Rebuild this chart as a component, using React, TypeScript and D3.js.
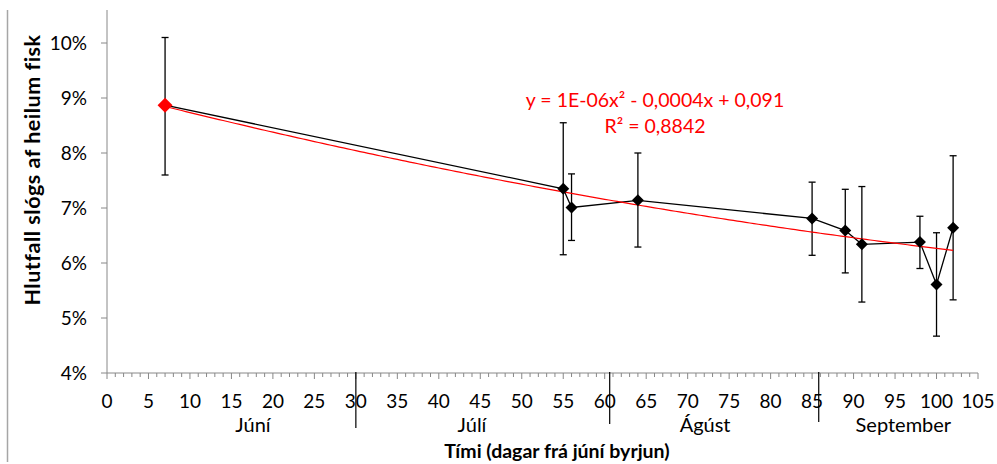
import React from "react";
import * as d3 from "d3";

const days = [7, 55, 56, 64, 85, 89, 91, 98, 100, 102];
const values = [8.87, 7.35, 7.01, 7.14, 6.81, 6.59, 6.34, 6.38, 5.61, 6.64];
const errLow = [7.6, 6.15, 6.41, 6.29, 6.14, 5.82, 5.29, 5.9, 4.67, 5.33];
const errHigh = [10.1, 8.55, 7.62, 8.0, 7.47, 7.34, 7.39, 6.85, 6.55, 7.95];
const yTicks = [4, 5, 6, 7, 8, 9, 10];
const xTicks = d3.range(0, 106, 5);
const xMinor = d3.range(0, 106, 1);
const monthNames = ["Júní", "Júlí", "Ágúst", "September"];
const monthCenters = [17.6, 44, 72.1, 96];
const monthDividers = [30, 60.6, 85.8];
const dividerEnds = [428, 424, 422];
const equationText = "y = 1E-06x² - 0,0004x + 0,091";
const r2Text = "R² = 0,8842";

// quadratic least squares fit
function quadFit(xs: number[], ys: number[]) {
  const n = xs.length;
  let s = [0, 0, 0, 0, 0];
  let t = [0, 0, 0];
  for (let i = 0; i < n; i++) {
    const x = xs[i], y = ys[i];
    for (let k = 0; k < 5; k++) s[k] += Math.pow(x, k);
    for (let k = 0; k < 3; k++) t[k] += y * Math.pow(x, k);
  }
  const A = [
    [s[0], s[1], s[2], t[0]],
    [s[1], s[2], s[3], t[1]],
    [s[2], s[3], s[4], t[2]],
  ];
  for (let i = 0; i < 3; i++) {
    let p = i;
    for (let r = i + 1; r < 3; r++) if (Math.abs(A[r][i]) > Math.abs(A[p][i])) p = r;
    [A[i], A[p]] = [A[p], A[i]];
    for (let r = 0; r < 3; r++) {
      if (r === i) continue;
      const f = A[r][i] / A[i][i];
      for (let c = i; c < 4; c++) A[r][c] -= f * A[i][c];
    }
  }
  return [A[0][3] / A[0][0], A[1][3] / A[1][1], A[2][3] / A[2][2]];
}

export default function App() {
  const W = 997, H = 464;
  const x = d3.scaleLinear().domain([0, 105]).range([107, 978]);
  const y = d3.scaleLinear().domain([4, 10]).range([373, 43]);
  const font = "Lato, 'Open Sans', sans-serif";
  const [c0, c1, c2] = quadFit(days, values);
  const trendPts = d3.range(days[0], days[days.length - 1] + 0.01, 0.5).map((d) => [d, c0 + c1 * d + c2 * d * d]);
  const trendLine = d3.line<number[]>().x((d) => x(d[0])).y((d) => y(d[1]))(trendPts) || "";
  const dataLine = d3.line<number>().x((_, i) => x(days[i])).y((d) => y(d))(values) || "";
  const diamond = (cx: number, cy: number, r: number) =>
    `M${cx},${cy - r}L${cx + r},${cy}L${cx},${cy + r}L${cx - r},${cy}Z`;
  const axisColor = "#888";

  return (
    <svg width={W} height={H} style={{ position: "absolute", left: 0, top: 0, background: "#fff" }} fontFamily={font}>
      <rect x={0} y={0} width={W} height={H} fill="#fff" />
      <line x1={7.5} x2={7.5} y1={10} y2={462} stroke="#a6a6a6" strokeWidth={1.5} />
      {/* y axis */}
      <line x1={x(0)} x2={x(0)} y1={y(10.6)} y2={y(4)} stroke={axisColor} strokeWidth={1} />
      {yTicks.map((t) => (
        <g key={"yt" + t}>
          <line x1={x(0) - 6} x2={x(0)} y1={y(t)} y2={y(t)} stroke={axisColor} />
          <text x={87} y={y(t)} dy="0.35em" textAnchor="end" fontSize={19} fill="#000">
            {t + "%"}
          </text>
        </g>
      ))}
      {/* x axis */}
      <line x1={x(0)} x2={x(105)} y1={y(4)} y2={y(4)} stroke={axisColor} strokeWidth={1} />
      {xMinor.map((t) => (
        <line key={"xm" + t} x1={x(t)} x2={x(t)} y1={y(4)} y2={y(4) + (t % 5 === 0 ? 6 : 4)} stroke={axisColor} />
      ))}
      {xTicks.map((t) => (
        <text key={"xl" + t} x={x(t)} y={408} textAnchor="middle" fontSize={19} fill="#000">
          {t}
        </text>
      ))}
      {monthDividers.map((m, i) => (
        <line key={"md" + i} x1={x(m)} x2={x(m)} y1={y(4) - 1} y2={dividerEnds[i]} stroke="#000" strokeWidth={1.2} />
      ))}
      {monthNames.map((m, i) => (
        <text key={"mn" + i} x={x(monthCenters[i])} y={432} textAnchor="middle" fontSize={20} fill="#000">
          {m}
        </text>
      ))}
      <text x={557} y={458} textAnchor="middle" fontSize={19.5} fontWeight="bold" fill="#000">
        Tími (dagar frá júní byrjun)
      </text>
      <text
        transform="translate(40,170) rotate(-90)"
        textAnchor="middle"
        fontSize={21.5}
        fontWeight="bold"
        letterSpacing={0.5}
        fill="#000"
      >
        Hlutfall slógs af heilum fisk
      </text>
      {/* error bars */}
      {days.map((d, i) => (
        <g key={"eb" + i} stroke="#000" strokeWidth={1.3}>
          <line x1={x(d)} x2={x(d)} y1={y(errLow[i])} y2={y(errHigh[i])} />
          <line x1={x(d) - 3.5} x2={x(d) + 3.5} y1={y(errLow[i])} y2={y(errLow[i])} />
          <line x1={x(d) - 3.5} x2={x(d) + 3.5} y1={y(errHigh[i])} y2={y(errHigh[i])} />
        </g>
      ))}
      {/* data line */}
      <path d={dataLine} fill="none" stroke="#000" strokeWidth={1.3} />
      {/* trend line */}
      <path d={trendLine} fill="none" stroke="#ff0000" strokeWidth={1.2} />
      {/* markers */}
      {days.map((d, i) => (
        <path
          key={"mk" + i}
          d={diamond(x(d), y(values[i]), i === 0 ? 7.5 : 6)}
          fill={i === 0 ? "#ff0000" : "#000"}
        />
      ))}
      <text x={655} y={107} textAnchor="middle" fontSize={19.5} fill="#ff0000">
        {equationText}
      </text>
      <text x={655} y={133} textAnchor="middle" fontSize={19.5} fill="#ff0000">
        {r2Text}
      </text>
    </svg>
  );
}
